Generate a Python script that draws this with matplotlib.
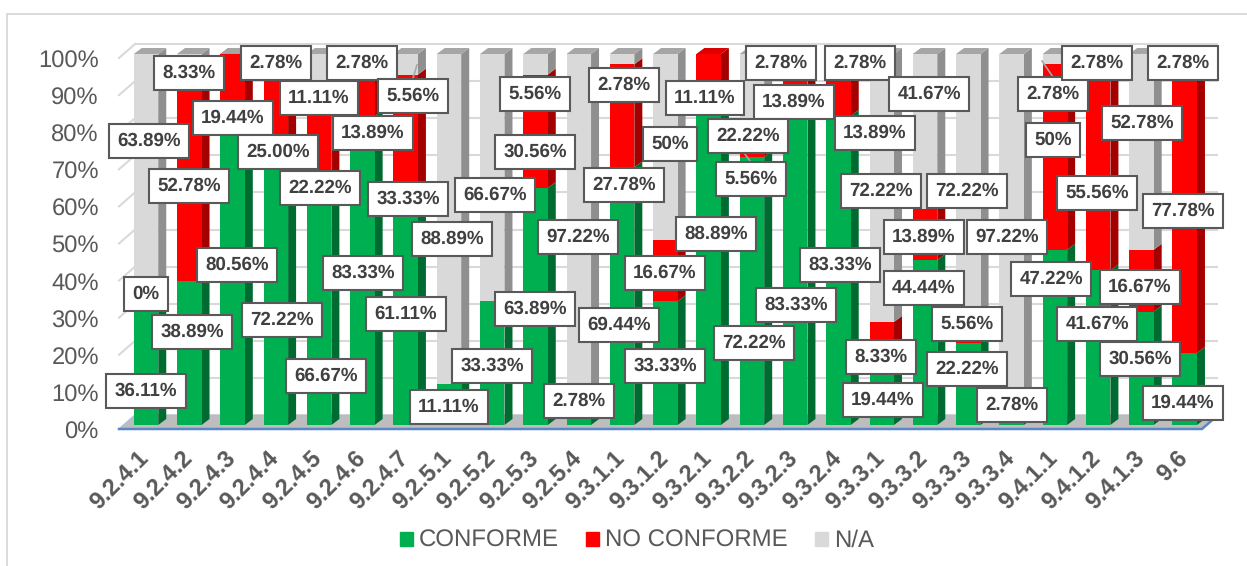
import matplotlib
matplotlib.use('Agg')
import matplotlib.pyplot as plt
from matplotlib.lines import Line2D
from matplotlib.patches import Patch, Rectangle
from matplotlib.transforms import Affine2D

plt.rcParams['font.family'] = ['Liberation Sans', 'DejaVu Sans']
plt.rcParams['text.hinting'] = 'no_hinting'

W, H = 1247, 566

categories = ['9.2.4.1', '9.2.4.2', '9.2.4.3', '9.2.4.4', '9.2.4.5', '9.2.4.6', '9.2.4.7',
              '9.2.5.1', '9.2.5.2', '9.2.5.3', '9.2.5.4', '9.3.1.1', '9.3.1.2',
              '9.3.2.1', '9.3.2.2', '9.3.2.3', '9.3.2.4',
              '9.3.3.1', '9.3.3.2', '9.3.3.3', '9.3.3.4',
              '9.4.1.1', '9.4.1.2', '9.4.1.3', '9.6']
conforme = [36.11, 38.89, 80.56, 72.22, 66.67, 83.33, 61.11, 11.11, 33.33, 63.89, 2.78, 69.44, 33.33,
            88.89, 72.22, 83.33, 83.33, 19.44, 44.44, 22.22, 2.78, 47.22, 41.67, 30.56, 19.44]
no_conforme = [0, 52.78, 19.44, 25.00, 22.22, 13.89, 33.33, 0, 0, 30.56, 0, 27.78, 16.67,
               11.11, 5.56, 13.89, 13.89, 8.33, 13.89, 5.56, 0, 50, 55.56, 16.67, 77.78]
# 9.2.4.3 lleva un N/A casi nulo: sin etiqueta, pero con la tapa gris
na = [63.89, 8.33, 0.01, 2.78, 11.11, 2.78, 5.56, 88.89, 66.67, 5.56, 97.22, 2.78, 50,
      0, 22.22, 2.78, 2.78, 72.22, 41.67, 72.22, 97.22, 2.78, 2.78, 52.78, 2.78]

# centros de las etiquetas en pixeles de la imagen (estan movidas a mano en el original)
conforme_pos = [(146, 389), (192, 330), (237, 263), (282, 318), (326, 374), (363, 271), (406, 312),
                (449, 405), (492, 364), (535, 307), (579, 399), (619, 323), (665, 364),
                (716, 232), (754, 341), (796, 303), (840, 263), (883, 398), (924, 286),
                (967, 367), (1012, 403), (1051, 277), (1097, 322), (1140, 357), (1183, 401)]
no_conforme_pos = [(146, 292), (189, 184), (233, 116), (278, 150), (320, 186), (373, 131), (408, 197),
                   None, None, (535, 150), None, (624, 183), (665, 271),
                   (705, 96), (751, 177), (794, 100), (875, 131), (881, 355), (924, 235),
                   (967, 322), None, (1053, 138), (1097, 191), (1140, 285), (1183, 209)]
na_pos = [(149, 139), (189, 71), None, (276, 61), (319, 96), (362, 61), (413, 94),
          (452, 237), (495, 193), (535, 92), (578, 235), (624, 83), (670, 142),
          None, (748, 134), (781, 61), (860, 61), (881, 189), (929, 92),
          (967, 189), (1007, 235), (1053, 92), (1097, 61), (1142, 121), (1183, 61)]

# lineas guia de algunas etiquetas
leaders = [((413, 78), (417, 65)), ((750, 161), (742, 150)), ((1053, 77), (1042, 61))]

PX_X = 1 / 43.28     # unidades de categoria por pixel
PX_Y = 1 / 3.71      # puntos porcentuales por pixel
BAR_W = 24.5 * PX_X
SHIFT = 4 * PX_Y     # la barra empieza un poco por encima del borde del suelo
DEPTH_X, DEPTH_Y = 8 * PX_X, 6 * PX_Y
WALL_X, WALL_Y = 16 * PX_X, 14 * PX_Y

series = [(conforme, '#00B050', '#006B30', '#00B050'),
          (no_conforme, '#FF0000', '#A50000', '#DC0000'),
          (na, '#D9D9D9', '#8F8F8F', '#A6A6A6')]

fig = plt.figure(figsize=(W / 100, H / 100), dpi=100)
ax = fig.add_axes((119 / W, 1 - 429 / H, (1202 - 119) / W, (429 - 58) / H))
ax.set_xlim((119 - 146) * PX_X, (1202 - 146) * PX_X)
ax.set_ylim(0, 100)
for s in ax.spines.values():
    s.set_visible(False)

# marco exterior, solo se ve arriba y a la izquierda
fig.add_artist(Rectangle((7 / W, -0.1), 1.1, 1.1 - 14 / H, transform=fig.transFigure,
                         fill=False, edgecolor='#D9D9D9', linewidth=1.3))

x_l, x_r = ax.get_xlim()
ticks = list(range(0, 101, 10))

# pared del fondo y pared izquierda
for t in ticks:
    ax.plot([x_l + WALL_X, x_r + WALL_X], [t + WALL_Y, t + WALL_Y], color='#D9D9D9', lw=1.5, zorder=1,
            clip_on=False, solid_capstyle='butt')
    if t > 0:
        ax.plot([x_l, x_l + WALL_X], [t, t + WALL_Y], color='#D9D9D9', lw=1.5, zorder=1, clip_on=False)

# suelo
ax.fill([x_l, x_l + WALL_X, x_r + WALL_X, x_r], [0, WALL_Y, WALL_Y, 0], color='#BDBDBD', lw=0, zorder=1.5,
        clip_on=False)
ax.plot([x_l + WALL_X, x_r + WALL_X], [WALL_Y, WALL_Y], color='#A9BEDC', lw=1, zorder=1.6, clip_on=False)
ax.plot([x_l, x_l + WALL_X], [0, WALL_Y], color='#A9BEDC', lw=1, zorder=1.6, clip_on=False)
ax.plot([x_l, x_r, x_r + WALL_X], [0, 0, WALL_Y], color='#5B87C5', lw=1.8, zorder=1.7, clip_on=False,
        solid_joinstyle='miter')

# barras apiladas con cara frontal, lateral y tapa
x_pos = list(range(len(categories)))
bottoms = [SHIFT] * len(categories)
for values, front, side, top in series:
    tops = [b + v for b, v in zip(bottoms, values)]
    ax.bar(x_pos, values, BAR_W, bottom=bottoms, color=front, linewidth=0, zorder=3, clip_on=False)
    for i, (v, b, y1) in enumerate(zip(values, bottoms, tops)):
        if v <= 0:
            continue
        xr = i + BAR_W / 2
        ax.fill([xr, xr + DEPTH_X, xr + DEPTH_X, xr], [b, b + DEPTH_Y, y1 + DEPTH_Y, y1],
                color=side, lw=0, zorder=2.5, clip_on=False)
        if y1 >= 99.9 + SHIFT:
            xl = i - BAR_W / 2
            ax.fill([xl, xl + DEPTH_X, xr + DEPTH_X, xr], [y1, y1 + DEPTH_Y, y1 + DEPTH_Y, y1],
                    color=top, lw=0, zorder=2.6, clip_on=False)
    bottoms = tops

ax.set_yticks(ticks)
ax.set_yticklabels([f'{t}%' for t in ticks], fontsize=17.1, color='#595959')
ax.tick_params(axis='y', length=0, pad=14.5)
for lab in ax.get_yticklabels():
    lab.set_transform(lab.get_transform() + Affine2D().translate(0, -1))
ax.set_xticks(x_pos)
ax.set_xticklabels(categories, rotation=45, ha='right', va='center', rotation_mode='anchor',
                   fontsize=17, fontweight='bold', color='#595959')
ax.tick_params(axis='x', length=0, pad=19)


def fmt(v):
    if v in (0, 50):
        return f'{v:.0f}%'
    return f'{v:.2f}%'


for start, end in leaders:
    fig.add_artist(Line2D([start[0] / W, end[0] / W], [1 - start[1] / H, 1 - end[1] / H],
                          color='#A6A6A6', lw=1.2, zorder=4))

for values, positions in ((conforme, conforme_pos), (no_conforme, no_conforme_pos), (na, na_pos)):
    for v, p in zip(values, positions):
        if p is None:
            continue
        fig.text(p[0] / W, 1 - p[1] / H, fmt(v), ha='center', va='center_baseline', fontsize=13.5,
                 fontweight='bold', color='#404040', zorder=5,
                 bbox=dict(boxstyle='square,pad=0.45', facecolor='white', edgecolor='#595959', linewidth=1.5))

handles = [Patch(color=c, label=n) for (_, c, _, _), n in zip(series, ['CONFORME', 'NO CONFORME', 'N/A'])]
fig.legend(handles=handles, loc='center', bbox_to_anchor=(637 / W, 1 - 541 / H), ncols=3, frameon=False,
           fontsize=17.3, labelcolor='#595959', handlelength=0.54, handleheight=0.54,
           handletextpad=0.24, columnspacing=1.15, borderpad=0, borderaxespad=0)

fig.savefig('out.png', dpi=100)
